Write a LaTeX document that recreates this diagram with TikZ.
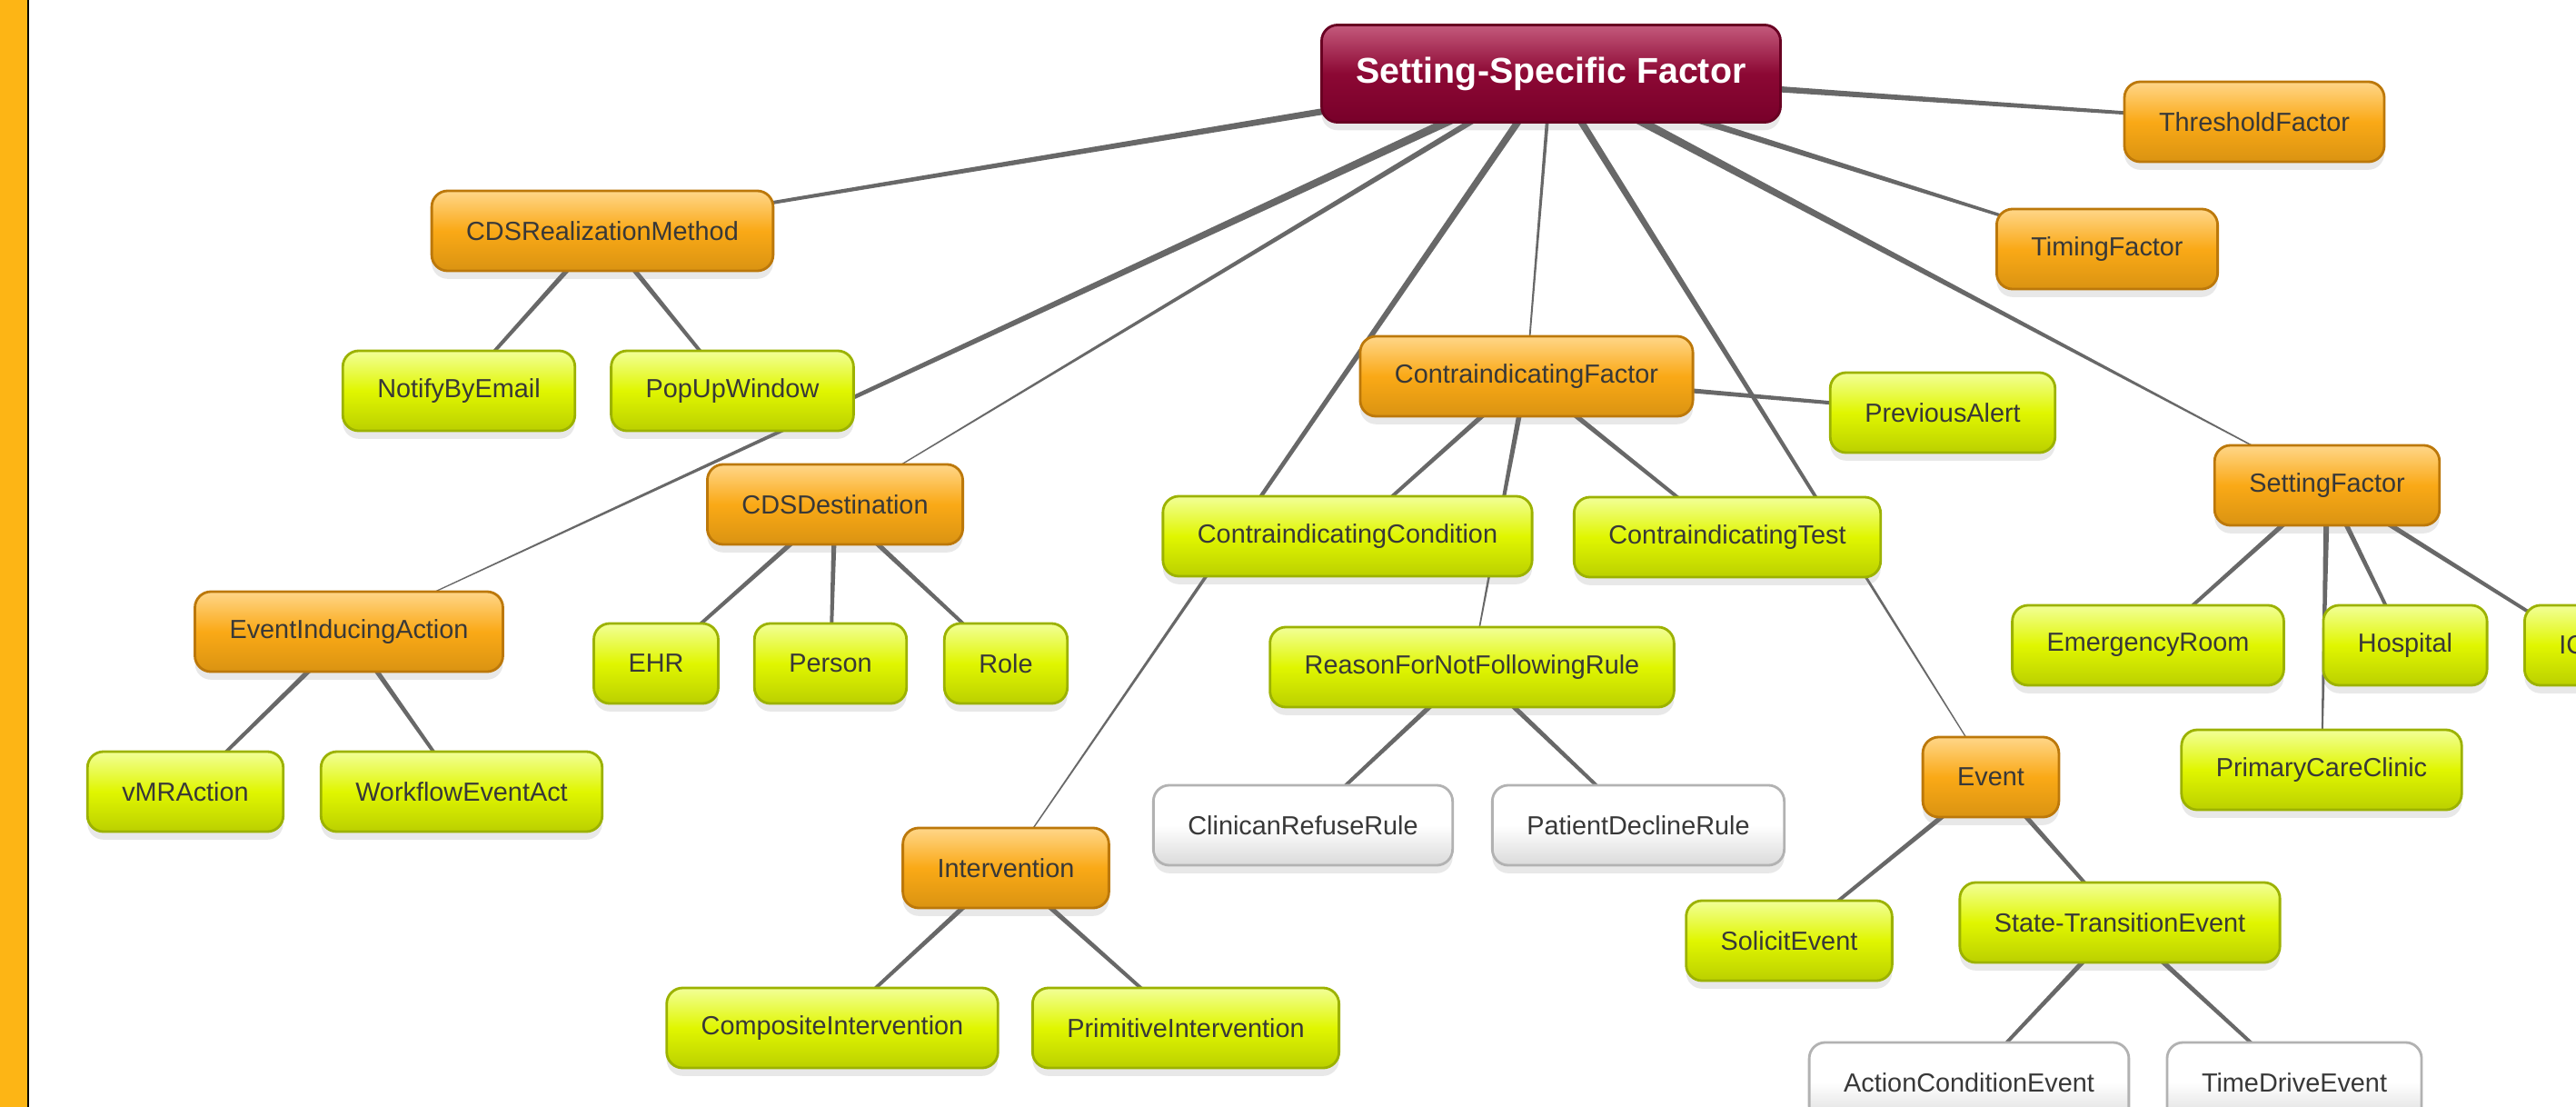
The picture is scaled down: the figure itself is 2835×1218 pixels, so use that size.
\documentclass[tikz,border=0pt]{standalone}
\usepackage{fontspec}
\setmainfont{Liberation Sans}
\usetikzlibrary{calc,shadows,backgrounds}

\definecolor{orangeTop}{HTML}{FFD689}
\definecolor{orangeMid}{HTML}{FAA916}
\definecolor{orangeBot}{HTML}{DA9312}
\definecolor{orangeLine}{HTML}{BC780A}
\definecolor{limeTop}{HTML}{F2FF98}
\definecolor{limeMid}{HTML}{E0F600}
\definecolor{limeBot}{HTML}{BBD000}
\definecolor{limeLine}{HTML}{9CB200}
\definecolor{greyBot}{HTML}{DADADA}
\definecolor{greyLine}{HTML}{B2B2B2}
\definecolor{rootTop}{HTML}{C45A7C}
\definecolor{rootMid}{HTML}{8C0834}
\definecolor{rootBot}{HTML}{78002A}
\definecolor{rootLine}{HTML}{680022}
\definecolor{branchGrey}{HTML}{686868}
\definecolor{barOrange}{HTML}{FDB515}
\definecolor{labelGrey}{HTML}{383838}

% tapered branch: from, to, half width at from, half width at to
\newcommand{\mapbranch}[4]{%
  \fill[branchGrey] ($(#1.center)!#3!90:(#2.center)$) -- ($(#1.center)!#3!-90:(#2.center)$)
    -- ($(#2.center)!#4!90:(#1.center)$) -- ($(#2.center)!#4!-90:(#1.center)$) -- cycle;}

\tikzset{
  topic/.style={rounded corners=5pt, minimum height=0.88cm, inner xsep=0.38cm, inner ysep=0pt,
    line width=0.8pt, text=labelGrey, font=\fontsize{8.2pt}{10pt}\selectfont,
    drop shadow={shadow xshift=0pt, shadow yshift=-2.5pt, opacity=0.18}},
  orangebox/.style={topic, draw=orangeLine, top color=orangeTop, bottom color=orangeBot, middle color=orangeMid},
  limebox/.style={topic, draw=limeLine, top color=limeTop, bottom color=limeBot, middle color=limeMid},
  greybox/.style={topic, draw=greyLine, top color=white, bottom color=greyBot, middle color=white},
  rootbox/.style={topic, minimum height=1.07cm, draw=rootLine, top color=rootTop, bottom color=rootBot,
    middle color=rootMid, text=white, font=\bfseries\fontsize{11.2pt}{13pt}\selectfont},
}

\begin{document}
\begin{tikzpicture}[x=0.01cm,y=-0.01cm]
  \useasboundingbox (0,0) rectangle (2835,1218);
  \clip (0,0) rectangle (2835,1218);
  \fill[barOrange] (0,0) rectangle (30,1218);
  \draw[line width=0.45pt] (31,0) -- (31,1218);

  \node[rootbox] (root) at (1707,81) {Setting-Specific Factor};

  \node[orangebox] (cdsrm) at (663,254) {CDSRealizationMethod};
  \node[limebox] (notify) at (505,430) {NotifyByEmail};
  \node[limebox] (popup) at (806,430) {PopUpWindow};

  \node[orangebox] (cdsdest) at (919,555) {CDSDestination};
  \node[limebox] (ehr) at (722,730) {EHR};
  \node[limebox] (person) at (914,730) {Person};
  \node[limebox] (role) at (1107,730) {Role};

  \node[orangebox] (eia) at (384,695) {EventInducingAction};
  \node[limebox] (vmr) at (204,871) {vMRAction};
  \node[limebox] (workflow) at (508,871) {WorkflowEventAct};

  \node[orangebox] (cfactor) at (1680,414) {ContraindicatingFactor};
  \node[limebox] (prevalert) at (2138,454) {PreviousAlert};
  \node[limebox] (ccond) at (1483,590) {ContraindicatingCondition};
  \node[limebox] (ctest) at (1901,591) {ContraindicatingTest};
  \node[limebox] (rfnfr) at (1620,734) {ReasonForNotFollowingRule};
  \node[greybox] (clinican) at (1434,908) {ClinicanRefuseRule};
  \node[greybox] (patient) at (1803,908) {PatientDeclineRule};

  \node[orangebox] (interv) at (1107,955) {Intervention};
  \node[limebox] (composite) at (916,1131) {CompositeIntervention};
  \node[limebox] (primitive) at (1305,1131) {PrimitiveIntervention};

  \node[orangebox] (event) at (2191,855) {Event};
  \node[limebox] (solicit) at (1969,1035) {SolicitEvent};
  \node[limebox] (ste) at (2333,1015) {State-TransitionEvent};
  \node[greybox] (ace) at (2167,1191) {ActionConditionEvent};
  \node[greybox] (tde) at (2525,1191) {TimeDriveEvent};

  \node[orangebox] (thresh) at (2481,134) {ThresholdFactor};
  \node[orangebox] (timing) at (2319,274) {TimingFactor};

  \node[orangebox] (sfactor) at (2561,534) {SettingFactor};
  \node[limebox] (er) at (2364,710) {EmergencyRoom};
  \node[limebox] (hospital) at (2647,710) {Hospital};
  \node[limebox, anchor=west] (icu) at (2777,710) {ICU};
  \node[limebox] (pcc) at (2555,847) {PrimaryCareClinic};

  \begin{scope}[on background layer]
    \mapbranch{root}{cdsrm}{1.2pt}{0.4pt}
    \mapbranch{root}{eia}{1.4pt}{0.08pt}
    \mapbranch{root}{cdsdest}{1.0pt}{0.1pt}
    \mapbranch{root}{interv}{1.15pt}{0.15pt}
    \mapbranch{root}{cfactor}{0.6pt}{0.2pt}
    \mapbranch{root}{event}{1.15pt}{0.12pt}
    \mapbranch{root}{sfactor}{1.45pt}{0.08pt}
    \mapbranch{root}{timing}{1.25pt}{0.3pt}
    \mapbranch{root}{thresh}{1.2pt}{0.4pt}

    \mapbranch{cdsrm}{notify}{0.85pt}{0.45pt}
    \mapbranch{cdsrm}{popup}{0.85pt}{0.45pt}
    \mapbranch{cdsdest}{ehr}{0.85pt}{0.45pt}
    \mapbranch{cdsdest}{person}{0.85pt}{0.45pt}
    \mapbranch{cdsdest}{role}{0.85pt}{0.45pt}
    \mapbranch{eia}{vmr}{0.85pt}{0.45pt}
    \mapbranch{eia}{workflow}{0.85pt}{0.45pt}

    \mapbranch{cfactor}{ccond}{0.85pt}{0.45pt}
    \mapbranch{cfactor}{rfnfr}{0.9pt}{0.12pt}
    \mapbranch{cfactor}{ctest}{0.85pt}{0.45pt}
    \mapbranch{cfactor}{prevalert}{0.9pt}{0.45pt}
    \mapbranch{rfnfr}{clinican}{0.85pt}{0.45pt}
    \mapbranch{rfnfr}{patient}{0.85pt}{0.45pt}

    \mapbranch{interv}{composite}{0.85pt}{0.45pt}
    \mapbranch{interv}{primitive}{0.85pt}{0.45pt}
    \mapbranch{event}{solicit}{0.85pt}{0.45pt}
    \mapbranch{event}{ste}{0.85pt}{0.45pt}
    \mapbranch{ste}{ace}{0.85pt}{0.45pt}
    \mapbranch{ste}{tde}{0.85pt}{0.45pt}

    \mapbranch{sfactor}{er}{0.85pt}{0.45pt}
    \mapbranch{sfactor}{pcc}{1.0pt}{0.15pt}
    \mapbranch{sfactor}{hospital}{0.85pt}{0.45pt}
    \mapbranch{sfactor}{icu}{0.85pt}{0.45pt}
  \end{scope}
\end{tikzpicture}
\end{document}
